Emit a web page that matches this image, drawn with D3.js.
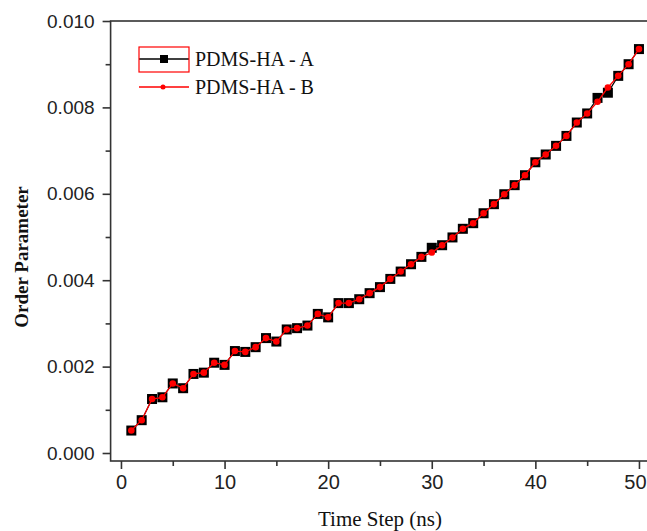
<!DOCTYPE html>
<html>
<head>
<meta charset="utf-8">
<script src="https://cdn.jsdelivr.net/npm/d3@7/dist/d3.min.js"></script>
<style>
  html, body { margin: 0; padding: 0; background: #fff; }
  svg { display: block; }
</style>
</head>
<body>
<svg id="chart" width="647" height="531"></svg>
<script>
// ---------- data ----------
const timeSteps = [1,2,3,4,5,6,7,8,9,10,11,12,13,14,15,16,17,18,19,20,21,22,23,24,25,26,27,28,29,30,31,32,33,34,35,36,37,38,39,40,41,42,43,44,45,46,47,48,49,50];
const seriesA = [0.00052,0.00076,0.00125,0.00129,0.00161,0.00150,0.00183,0.00186,0.00209,0.00204,
                 0.00236,0.00234,0.00245,0.00266,0.00258,0.00286,0.00289,0.00295,0.00322,0.00314,
                 0.00347,0.00347,0.00356,0.00370,0.00384,0.00403,0.00420,0.00437,0.00454,0.00475,
                 0.00481,0.00499,0.00519,0.00532,0.00555,0.00576,0.00599,0.00620,0.00643,0.00673,
                 0.00691,0.00711,0.00734,0.00765,0.00786,0.00822,0.00834,0.00873,0.00900,0.00935];
const seriesB = [0.00052,0.00076,0.00125,0.00129,0.00161,0.00150,0.00183,0.00186,0.00209,0.00204,
                 0.00236,0.00234,0.00245,0.00266,0.00258,0.00286,0.00289,0.00295,0.00322,0.00314,
                 0.00347,0.00347,0.00356,0.00370,0.00384,0.00403,0.00420,0.00437,0.00454,0.00464,
                 0.00481,0.00499,0.00519,0.00532,0.00555,0.00576,0.00599,0.00620,0.00643,0.00673,
                 0.00691,0.00711,0.00734,0.00765,0.00786,0.00813,0.00846,0.00873,0.00900,0.00935];
const seriesNames = ["PDMS-HA - A", "PDMS-HA - B"];
const xMajorTicks = [0,10,20,30,40,50];
const xMinorTicks = [5,15,25,35,45];
const yMajorTicks = [0.000,0.002,0.004,0.006,0.008,0.010];
const yMinorTicks = [0.001,0.003,0.005,0.007,0.009];
const xTitle = "Time Step (ns)";
const yTitle = "Order Parameter";

// ---------- layout ----------
const W = 647;
const svg = d3.select("#chart");
const x = d3.scaleLinear().domain([-1, 54]).range([110.6, 680.4]);
const y = d3.scaleLinear().domain([-0.000185, 0.010]).range([461, 21]);
const axisColor = "#333";
const sans = "'Liberation Sans', Arial, sans-serif";
const serif = "'Liberation Serif', 'Times New Roman', serif";

// spines (left, bottom, top; right is beyond the view)
const frame = svg.append("g");
frame.append("rect")
  .attr("x", x.range()[0]).attr("y", y.range()[1])
  .attr("width", x.range()[1] - x.range()[0])
  .attr("height", y.range()[0] - y.range()[1])
  .attr("fill", "none").attr("stroke", axisColor).attr("stroke-width", 1.6);

function styleAxis(g) {
  g.select(".domain").remove();
  g.selectAll(".tick line").attr("stroke", axisColor).attr("stroke-width", 1.6);
  g.selectAll(".tick text").attr("fill", "#222");
}

// x axis
const xAxisG = svg.append("g").attr("transform", `translate(0,${y.range()[0]})`)
  .call(d3.axisBottom(x).tickValues(xMajorTicks).tickSize(8).tickPadding(6).tickFormat(d3.format("d")));
styleAxis(xAxisG);
xAxisG.selectAll(".tick text").attr("font-family", sans).attr("font-size", 20);
// keep the last label inside the view
xAxisG.selectAll(".tick text").each(function(d) {
  const t = d3.select(this);
  const bb = this.getBBox();
  const right = x(d) + bb.x + bb.width;
  if (right > W - 1) t.attr("dx", (W - 1 - right) + "px");
});
const xMinorG = svg.append("g").attr("transform", `translate(0,${y.range()[0]})`)
  .call(d3.axisBottom(x).tickValues(xMinorTicks).tickSize(5).tickFormat(""));
styleAxis(xMinorG);

// y axis
const yAxisG = svg.append("g").attr("transform", `translate(${x.range()[0]},0)`)
  .call(d3.axisLeft(y).tickValues(yMajorTicks).tickSize(8).tickPadding(8).tickFormat(d3.format(".3f")));
styleAxis(yAxisG);
yAxisG.selectAll(".tick text").attr("font-family", sans).attr("font-size", 19);
const yMinorG = svg.append("g").attr("transform", `translate(${x.range()[0]},0)`)
  .call(d3.axisLeft(y).tickValues(yMinorTicks).tickSize(5).tickFormat(""));
styleAxis(yMinorG);

// axis titles
svg.append("text").attr("x", 380).attr("y", 526).attr("text-anchor", "middle")
  .attr("font-family", serif).attr("font-size", 21).attr("fill", "#111").text(xTitle);
svg.append("text").attr("transform", "translate(28,257) rotate(-90)").attr("text-anchor", "middle")
  .attr("font-family", serif).attr("font-weight", "bold").attr("font-size", 19).attr("fill", "#111").text(yTitle);

// ---------- series ----------
const dataA = timeSteps.map((t, i) => ({t, v: seriesA[i]}));
const dataB = timeSteps.map((t, i) => ({t, v: seriesB[i]}));
const line = d3.line().x(d => x(d.t)).y(d => y(d.v));

const plot = svg.append("g");
plot.append("path").datum(dataA).attr("d", line)
  .attr("fill", "none").attr("stroke", "#000").attr("stroke-width", 1.2);
plot.selectAll("rect.a").data(dataA).join("rect").attr("class", "a")
  .attr("x", d => x(d.t) - 5).attr("y", d => y(d.v) - 5)
  .attr("width", 10).attr("height", 10).attr("fill", "#000");

plot.append("path").datum(dataB).attr("d", line)
  .attr("fill", "none").attr("stroke", "#ff0000").attr("stroke-width", 1.3);
plot.selectAll("circle.b").data(dataB).join("circle").attr("class", "b")
  .attr("cx", d => x(d.t)).attr("cy", d => y(d.v)).attr("r", 3.3).attr("fill", "#ff0000");

// ---------- legend ----------
const lg = svg.append("g");
lg.append("line").attr("x1", 139).attr("x2", 189).attr("y1", 59).attr("y2", 59)
  .attr("stroke", "#000").attr("stroke-width", 1.3);
lg.append("rect").attr("x", 160).attr("y", 55).attr("width", 8).attr("height", 8).attr("fill", "#000");
lg.append("rect").attr("x", 139).attr("y", 47).attr("width", 50).attr("height", 25)
  .attr("fill", "none").attr("stroke", "#ff0000").attr("stroke-width", 1.2);
lg.append("text").attr("x", 195).attr("y", 66).attr("font-family", serif).attr("font-size", 20)
  .attr("fill", "#111").text(seriesNames[0]);
lg.append("line").attr("x1", 139).attr("x2", 189).attr("y1", 87).attr("y2", 87)
  .attr("stroke", "#ff0000").attr("stroke-width", 1.3);
lg.append("circle").attr("cx", 163).attr("cy", 87).attr("r", 2.5).attr("fill", "#ff0000");
lg.append("text").attr("x", 195).attr("y", 94).attr("font-family", serif).attr("font-size", 20)
  .attr("fill", "#111").text(seriesNames[1]);
</script>
</body>
</html>
